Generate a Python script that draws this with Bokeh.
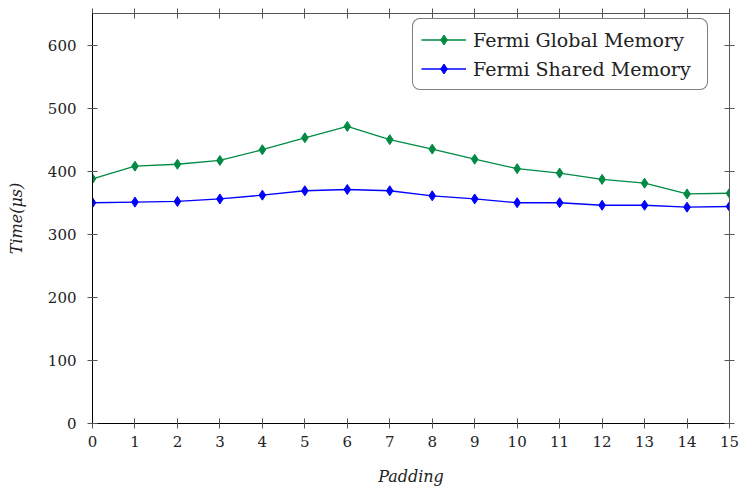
from bokeh.plotting import figure
from bokeh.models import LinearAxis, FixedTicker, Legend, LegendItem, Range1d
from bokeh.embed import file_html
from bokeh.resources import INLINE

# ---- data ----
padding = list(range(16))
global_mem = [388, 408, 411, 417, 434, 453, 471, 450, 435, 419, 404, 397, 387, 381, 364, 365]
shared_mem = [350, 351, 352, 356, 362, 369, 371, 369, 361, 356, 350, 350, 346, 346, 343, 344]
x_ticks = list(range(16))
y_ticks = [0, 100, 200, 300, 400, 500, 600]
series_names = ["Fermi Global Memory", "Fermi Shared Memory"]
series_colors = ["#008B45", "#0000FF"]

FONT = "DejaVu Serif"
TICK_COLOR = "#555555"

p = figure(width=740, height=488, x_range=Range1d(0, 15), y_range=Range1d(0, 650),
           output_backend="svg", toolbar_location=None,
           min_border_left=92, min_border_right=11, min_border_top=13, min_border_bottom=65)
p.outline_line_color = None
p.xgrid.grid_line_color = None
p.ygrid.grid_line_color = None
p.background_fill_color = "white"
p.border_fill_color = "white"

def style_axis(ax, ticks, show_labels, line_color):
    ax.ticker = FixedTicker(ticks=ticks)
    ax.axis_line_color = line_color
    ax.axis_line_width = 1
    ax.major_tick_line_color = TICK_COLOR
    ax.major_tick_line_width = 1
    ax.major_tick_in = 5
    ax.major_tick_out = 5
    ax.minor_tick_line_color = None
    ax.major_label_text_font = FONT
    ax.major_label_text_color = "#222222"
    if show_labels:
        ax.major_label_text_font_size = "15px"
    else:
        ax.major_label_overrides = {t: "" for t in ticks}
        ax.major_label_text_font_size = "1px"
        ax.major_label_standoff = 0

xa = p.xaxis[0]
ya = p.yaxis[0]
style_axis(xa, x_ticks, True, "black")
style_axis(ya, y_ticks, True, "black")
xa.major_label_standoff = 7
ya.major_label_standoff = 11
xa.axis_label = "Padding"
ya.axis_label = "Time(μs)"
for ax in (xa, ya):
    ax.axis_label_text_font = FONT
    ax.axis_label_text_font_style = "italic"
    ax.axis_label_text_font_size = "16px"
    ax.axis_label_text_color = "#222222"
xa.axis_label_standoff = 17
ya.axis_label_standoff = 19

top_ax = LinearAxis()
style_axis(top_ax, x_ticks, False, "#555555")
p.add_layout(top_ax, "above")
right_ax = LinearAxis()
style_axis(right_ax, y_ticks, False, "#555555")
p.add_layout(right_ax, "right")

items = []
for name, ys, col in zip(series_names, [global_mem, shared_mem], series_colors):
    ln = p.line(padding, ys, line_color=col, line_width=1.3)
    sc = p.scatter(padding, ys, marker="diamond", size=10, fill_color=col, line_color=col, line_width=1)
    items.append(LegendItem(label=name, renderers=[ln, sc]))

legend = Legend(items=items, location=(320, 333))
legend.border_line_color = "black"
legend.border_line_width = 1
legend.background_fill_color = "white"
legend.background_fill_alpha = 1
legend.label_text_font = FONT
legend.label_text_font_size = "19px"
legend.label_text_color = "#222222"
legend.glyph_width = 45
legend.glyph_height = 25
legend.label_height = 25
legend.label_standoff = 7
legend.label_width = 226
legend.padding = 8
legend.spacing = 4
legend.margin = 0
try:
    legend.border_radius = 8
except Exception:
    pass
p.add_layout(legend)

open("out.html", "w").write(file_html(p, INLINE))
